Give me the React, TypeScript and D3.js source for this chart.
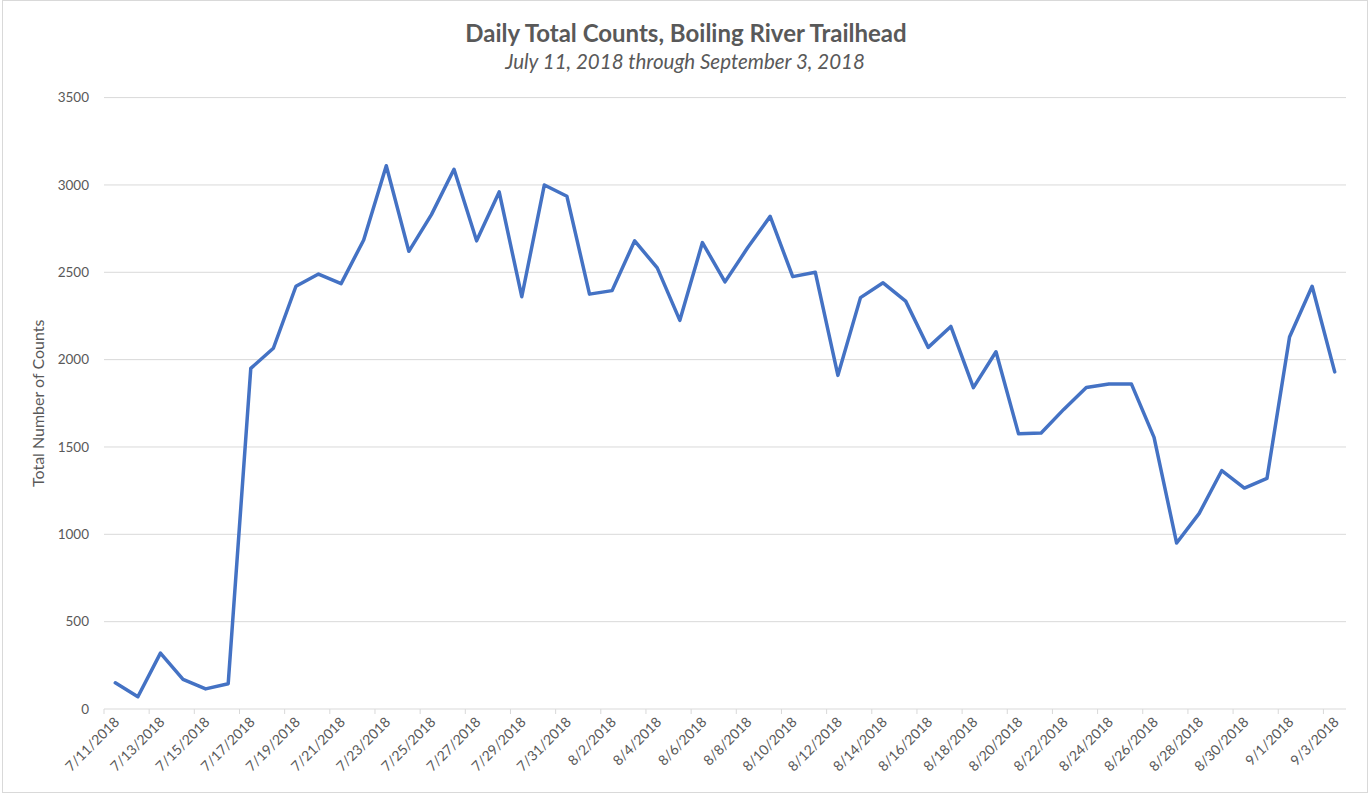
import React from 'react'
import * as d3 from 'd3'

const dates = [
  '7/11/2018', '7/12/2018', '7/13/2018', '7/14/2018', '7/15/2018', '7/16/2018', '7/17/2018',
  '7/18/2018', '7/19/2018', '7/20/2018', '7/21/2018', '7/22/2018', '7/23/2018', '7/24/2018',
  '7/25/2018', '7/26/2018', '7/27/2018', '7/28/2018', '7/29/2018', '7/30/2018', '7/31/2018',
  '8/1/2018', '8/2/2018', '8/3/2018', '8/4/2018', '8/5/2018', '8/6/2018', '8/7/2018',
  '8/8/2018', '8/9/2018', '8/10/2018', '8/11/2018', '8/12/2018', '8/13/2018', '8/14/2018',
  '8/15/2018', '8/16/2018', '8/17/2018', '8/18/2018', '8/19/2018', '8/20/2018', '8/21/2018',
  '8/22/2018', '8/23/2018', '8/24/2018', '8/25/2018', '8/26/2018', '8/27/2018', '8/28/2018',
  '8/29/2018', '8/30/2018', '8/31/2018', '9/1/2018', '9/2/2018', '9/3/2018',
]

const counts = [
  150, 70, 320, 170, 115, 145, 1950,
  2065, 2420, 2490, 2435, 2685, 3110, 2620,
  2830, 3090, 2680, 2960, 2360, 3000, 2935,
  2375, 2395, 2680, 2525, 2225, 2670, 2445,
  2640, 2820, 2475, 2500, 1910, 2355, 2440,
  2335, 2070, 2190, 1840, 2045, 1575, 1580,
  1715, 1840, 1860, 1860, 1555, 950, 1120,
  1365, 1265, 1320, 2130, 2420, 1930,
]

const yTicks = [0, 500, 1000, 1500, 2000, 2500, 3000, 3500]

const title = 'Daily Total Counts, Boiling River Trailhead'
const subtitle = 'July 11, 2018 through September 3, 2018'
const yLabel = 'Total Number of Counts'

const W = 1371
const H = 796
const left = 104
const right = 1346
const top = 97.6
const bottom = 709
const grey = '#595959'
const gridColor = '#d9d9d9'
const font = 'Lato, "Open Sans", sans-serif'

export default function App() {
  const x = d3.scaleBand<string>().domain(dates).range([left, right]).padding(0)
  const y = d3.scaleLinear().domain([0, 3500]).range([bottom, top])
  const bw = x.bandwidth()

  const line = d3
    .line<number>()
    .x((d, i) => (x(dates[i]) as number) + bw / 2)
    .y((d) => y(d))

  const tickIdx = d3.range(0, dates.length + 1, 2)

  return (
    <svg width={W} height={H} style={{ position: 'absolute', left: 0, top: 0 }}>
      <rect x={0} y={0} width={W} height={H} fill="#fff" />
      <rect x={2.5} y={0.5} width={W - 6} height={H - 4} fill="none" stroke={gridColor} />

      <text x={686} y={42} textAnchor="middle" fontFamily={font} fontWeight="bold" fontSize={24} fill={grey}>
        {title}
      </text>
      <text x={685} y={69} textAnchor="middle" fontFamily={font} fontStyle="italic" fontSize={20.5} fill={grey}>
        {subtitle}
      </text>

      <g>
        {yTicks.map((t) => (
          <g key={t}>
            {t > 0 && <line x1={left} x2={right} y1={y(t)} y2={y(t)} stroke={gridColor} strokeWidth={1} />}
            <text x={89} y={y(t)} dy="0.35em" textAnchor="end" fontFamily={font} fontSize={13.5} fill={grey}>
              {t}
            </text>
          </g>
        ))}
      </g>

      <text
        transform={`translate(44,${(top + bottom) / 2}) rotate(-90)`}
        textAnchor="middle"
        fontFamily={font}
        fontSize={16}
        fill={grey}
      >
        {yLabel}
      </text>

      <g>
        <line x1={left} x2={right} y1={bottom} y2={bottom} stroke={gridColor} strokeWidth={1} />
        {tickIdx.map((i) => {
          const tx = left + i * bw
          return <line key={i} x1={tx} x2={tx} y1={bottom} y2={bottom + 5} stroke={gridColor} strokeWidth={1} />
        })}
        {dates.map((d, i) =>
          i % 2 === 0 ? (
            <text
              key={d}
              transform={`translate(${(x(d) as number) + bw / 2 + 5},${bottom + 14}) rotate(-45)`}
              textAnchor="end"
              fontFamily={font}
              fontSize={14}
              fill={grey}
            >
              {d}
            </text>
          ) : null
        )}
      </g>

      <path d={line(counts) || ''} fill="none" stroke="#4472C4" strokeWidth={3.5} strokeLinejoin="round" strokeLinecap="round" />
    </svg>
  )
}
